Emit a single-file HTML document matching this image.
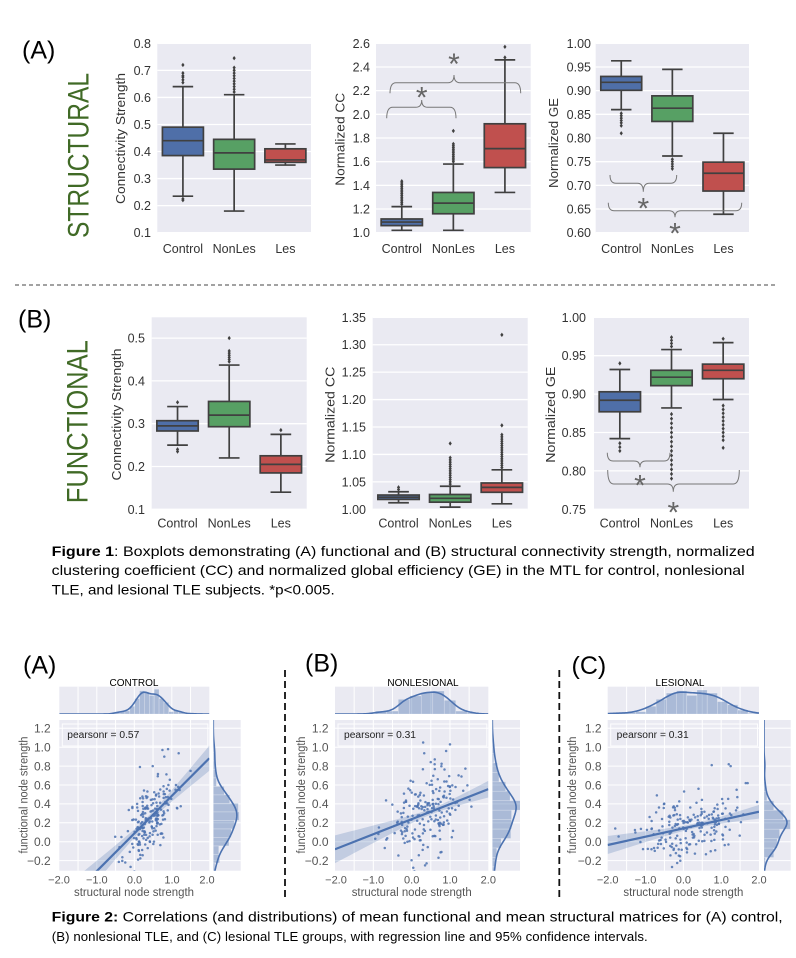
<!DOCTYPE html>
<html><head><meta charset="utf-8">
<style>
html,body{margin:0;padding:0;background:#fff;}
svg{display:block;}
text{font-family:"Liberation Sans",Arial,sans-serif;}
.t{font-size:12.5px;fill:#333;}
.tr{text-anchor:end;}
.tm{text-anchor:middle;}
.yl{font-size:13px;fill:#333;text-anchor:middle;}
.st{font-size:11px;fill:#555;text-anchor:middle;}
.sy{font-size:12px;fill:#555;text-anchor:end;}
.sl{font-size:11.5px;fill:#555;text-anchor:middle;}
.pl{font-size:25px;fill:#000;}
.cap{font-size:14px;fill:#000;}
.star{font-size:30px;fill:#666;text-anchor:middle;}
.ttl{font-size:10px;fill:#000;text-anchor:middle;}
.pr{font-size:10px;fill:#222;}
.big{font-size:30px;fill:#406a26;text-anchor:middle;}
</style></head><body>
<svg id="s" width="796" height="958" viewBox="0 0 796 958" xmlns="http://www.w3.org/2000/svg">
<rect width="796" height="958" fill="#fff"/>
<g id="g"></g>

<!-- panel labels -->
<text class="pl" x="22" y="58.5">(A)</text>
<text class="pl" x="18" y="327.5">(B)</text>
<text class="big" transform="translate(88.3,155.5) rotate(-90)" textLength="165" lengthAdjust="spacingAndGlyphs">STRUCTURAL</text>
<text class="big" transform="translate(87.3,421.7) rotate(-90)" textLength="163" lengthAdjust="spacingAndGlyphs">FUNCTIONAL</text>

<!-- separator -->
<line x1="15" y1="285" x2="777" y2="285" stroke="#444" stroke-width="1" stroke-dasharray="4,3"/>

<!-- Row A tick labels -->
<g class="t tr">
<text x="151" y="47.8">0.8</text><text x="151" y="74.9">0.7</text><text x="151" y="101.9">0.6</text><text x="151" y="129">0.5</text><text x="151" y="156">0.4</text><text x="151" y="183.1">0.3</text><text x="151" y="210.1">0.2</text><text x="151" y="237.2">0.1</text>
<text x="370" y="47.8">2.6</text><text x="370" y="71.5">2.4</text><text x="370" y="95.2">2.2</text><text x="370" y="118.8">2.0</text><text x="370" y="142.5">1.8</text><text x="370" y="166.2">1.6</text><text x="370" y="189.9">1.4</text><text x="370" y="213.5">1.2</text><text x="370" y="237.2">1.0</text>
<text x="591" y="47.8">1.00</text><text x="591" y="71.5">0.95</text><text x="591" y="95.2">0.90</text><text x="591" y="118.8">0.85</text><text x="591" y="142.5">0.80</text><text x="591" y="166.2">0.75</text><text x="591" y="189.9">0.70</text><text x="591" y="213.5">0.65</text><text x="591" y="237.2">0.60</text>
<text x="145" y="342.6">0.5</text><text x="145" y="385.4">0.4</text><text x="145" y="428.2">0.3</text><text x="145" y="471">0.2</text><text x="145" y="513.8">0.1</text>
<text x="366" y="321.8">1.35</text><text x="366" y="349.2">1.30</text><text x="366" y="376.7">1.25</text><text x="366" y="404.1">1.20</text><text x="366" y="431.5">1.15</text><text x="366" y="458.9">1.10</text><text x="366" y="486.4">1.05</text><text x="366" y="513.8">1.00</text>
<text x="586" y="321.8">1.00</text><text x="586" y="360.2">0.95</text><text x="586" y="398.6">0.90</text><text x="586" y="437">0.85</text><text x="586" y="475.4">0.80</text><text x="586" y="513.8">0.75</text>
</g>
<g class="t tm">
<text x="182.9" y="253">Control</text><text x="234.2" y="253">NonLes</text><text x="285.4" y="253">Les</text>
<text x="401.8" y="253">Control</text><text x="453.4" y="253">NonLes</text><text x="504.9" y="253">Les</text>
<text x="621.3" y="253">Control</text><text x="672.4" y="253">NonLes</text><text x="723.5" y="253">Les</text>
<text x="177.5" y="527.5">Control</text><text x="229.2" y="527.5">NonLes</text><text x="280.8" y="527.5">Les</text>
<text x="398.5" y="527.5">Control</text><text x="450.2" y="527.5">NonLes</text><text x="501.8" y="527.5">Les</text>
<text x="619.8" y="527.5">Control</text><text x="671.5" y="527.5">NonLes</text><text x="723.2" y="527.5">Les</text>
</g>
<text class="yl" transform="translate(125,138.5) rotate(-90)" textLength="131" lengthAdjust="spacingAndGlyphs">Connectivity Strength</text>
<text class="yl" transform="translate(344.5,139.3) rotate(-90)" textLength="93" lengthAdjust="spacingAndGlyphs">Normalized CC</text>
<text class="yl" transform="translate(557.8,143) rotate(-90)" textLength="90" lengthAdjust="spacingAndGlyphs">Normalized GE</text>
<text class="yl" transform="translate(121,414.5) rotate(-90)" textLength="132" lengthAdjust="spacingAndGlyphs">Connectivity Strength</text>
<text class="yl" transform="translate(334.5,414.7) rotate(-90)" textLength="96" lengthAdjust="spacingAndGlyphs">Normalized CC</text>
<text class="yl" transform="translate(555,414.7) rotate(-90)" textLength="96" lengthAdjust="spacingAndGlyphs">Normalized GE</text>

<!-- braces -->
<g fill="none" stroke="#777" stroke-width="1">
<path d="M386.7,118.3 Q386.7,107.3 392.7,107.3 L415.7,107.3 Q421.7,107.3 421.7,100 Q421.7,107.3 427.7,107.3 L450,107.3 Q456,107.3 456,118.3"/>
<path d="M390,93.3 Q390,82.7 396,82.7 L448,82.7 Q454,82.7 454,75 Q454,82.7 460,82.7 L514.7,82.7 Q520.7,82.7 520.7,93.3"/>
<path d="M610,175 Q610,183.3 616,183.3 L637.3,183.3 Q643.3,183.3 643.3,191.7 Q643.3,183.3 649.3,183.3 L670.7,183.3 Q676.7,183.3 676.7,175"/>
<path d="M608.3,202.7 Q608.3,210.7 614.3,210.7 L669,210.7 Q675,210.7 675,217.3 Q675,210.7 681,210.7 L735.7,210.7 Q741.7,210.7 741.7,202.7"/>
<path d="M607.3,452.7 Q607.3,461 613.3,461 L634,461 Q640,461 640,467.3 Q640,461 646,461 L664,461 Q670,461 670,452.7"/>
<path d="M607.7,470 Q607.7,484 613.7,484 L667.3,484 Q673.3,484 673.3,491.7 Q673.3,484 679.3,484 L733.3,484 Q739.3,484 739.3,470"/>
</g>
<text class="star" x="421.7" y="107.3">*</text>
<text class="star" x="454" y="74">*</text>
<text class="star" x="643.3" y="218.3">*</text>
<text class="star" x="675" y="243.3">*</text>
<text class="star" x="640" y="495.6">*</text>
<text class="star" x="673.3" y="522.3">*</text>

<!-- Figure 1 caption -->
<text class="cap" x="51.7" y="556" textLength="703" lengthAdjust="spacingAndGlyphs"><tspan font-weight="bold">Figure 1</tspan>: Boxplots demonstrating (A) functional and (B) structural connectivity strength, normalized</text>
<text class="cap" x="51.7" y="575" textLength="693" lengthAdjust="spacingAndGlyphs">clustering coefficient (CC) and normalized global efficiency (GE) in the MTL for control, nonlesional</text>
<text class="cap" x="51.7" y="594.3" textLength="283" lengthAdjust="spacingAndGlyphs">TLE, and lesional TLE subjects. *p&lt;0.005.</text>

<!-- Figure 2 -->
<text class="pl" x="23" y="673.5">(A)</text>
<text class="pl" x="305" y="671.7">(B)</text>
<text class="pl" x="571.5" y="674">(C)</text>
<line x1="285" y1="670" x2="285" y2="900" stroke="#111" stroke-width="1.8" stroke-dasharray="7,4"/>
<line x1="559.3" y1="670" x2="559.3" y2="900" stroke="#111" stroke-width="1.8" stroke-dasharray="7,4"/>
<text class="ttl" x="134" y="686">CONTROL</text>
<text class="ttl" x="423" y="686">NONLESIONAL</text>
<text class="ttl" x="680" y="686">LESIONAL</text>
<text class="pr" x="67.3" y="738" textLength="72" lengthAdjust="spacingAndGlyphs">pearsonr = 0.57</text>
<text class="pr" x="344" y="738" textLength="72" lengthAdjust="spacingAndGlyphs">pearsonr = 0.31</text>
<text class="pr" x="616.7" y="738" textLength="72" lengthAdjust="spacingAndGlyphs">pearsonr = 0.31</text>
<g class="sy">
<text x="50.7" y="732.6">1.2</text><text x="50.7" y="751.5">1.0</text><text x="50.7" y="770.4">0.8</text><text x="50.7" y="789.3">0.6</text><text x="50.7" y="808.2">0.4</text><text x="50.7" y="827.1">0.2</text><text x="50.7" y="846">0.0</text><text x="50.7" y="864.9">−0.2</text>
<text x="328.5" y="732.6">1.2</text><text x="328.5" y="751.5">1.0</text><text x="328.5" y="770.4">0.8</text><text x="328.5" y="789.3">0.6</text><text x="328.5" y="808.2">0.4</text><text x="328.5" y="827.1">0.2</text><text x="328.5" y="846">0.0</text><text x="328.5" y="864.9">−0.2</text>
<text x="601.5" y="732.6">1.2</text><text x="601.5" y="751.5">1.0</text><text x="601.5" y="770.4">0.8</text><text x="601.5" y="789.3">0.6</text><text x="601.5" y="808.2">0.4</text><text x="601.5" y="827.1">0.2</text><text x="601.5" y="846">0.0</text><text x="601.5" y="864.9">−0.2</text>
</g>
<g class="st">
<text x="59" y="883.5">−2.0</text><text x="96.8" y="883.5">−1.0</text><text x="134.5" y="883.5">0.0</text><text x="172" y="883.5">1.0</text><text x="207" y="883.5">2.0</text>
<text x="336" y="883.5">−2.0</text><text x="373.3" y="883.5">−1.0</text><text x="411.7" y="883.5">0.0</text><text x="450" y="883.5">1.0</text><text x="488.3" y="883.5">2.0</text>
<text x="607.7" y="883.5">−2.0</text><text x="645.5" y="883.5">−1.0</text><text x="683.4" y="883.5">0.0</text><text x="721.2" y="883.5">1.0</text><text x="759" y="883.5">2.0</text>
</g>
<text class="sl" x="134" y="896" textLength="120" lengthAdjust="spacingAndGlyphs">structural node strength</text>
<text class="sl" x="411.7" y="896" textLength="120" lengthAdjust="spacingAndGlyphs">structural node strength</text>
<text class="sl" x="683.4" y="896" textLength="120" lengthAdjust="spacingAndGlyphs">structural node strength</text>
<text class="sl" transform="translate(27.5,795) rotate(-90)" textLength="117" lengthAdjust="spacingAndGlyphs">functional node strength</text>
<text class="sl" transform="translate(305,795) rotate(-90)" textLength="117" lengthAdjust="spacingAndGlyphs">functional node strength</text>
<text class="sl" transform="translate(576,795) rotate(-90)" textLength="117" lengthAdjust="spacingAndGlyphs">functional node strength</text>

<text class="cap" x="51.7" y="921.5" textLength="731" lengthAdjust="spacingAndGlyphs"><tspan font-weight="bold">Figure 2:</tspan> Correlations (and distributions) of mean functional and mean structural matrices for (A) control,</text>
<text class="cap" x="51.7" y="941" style="font-size:13.2px" textLength="596" lengthAdjust="spacing">(B) nonlesional TLE, and (C) lesional TLE groups, with regression line and 95% confidence intervals.</text>
</svg>
<script>
(function(){
const NS="http://www.w3.org/2000/svg";
const G=document.getElementById('g');
function el(t,a,p){const e=document.createElementNS(NS,t);for(const k in a)e.setAttribute(k,a[k]);(p||G).appendChild(e);return e;}
const BL='#4f6fa8',GR='#57a064',RD='#c0504e',ED='#404040';
function seq(a,b,s){const r=[];for(let v=a;v<=b+1e-9;v+=s)r.push(+v.toFixed(4));return r;}
function st(a,b,s){return seq(a,b,s);}
const P=[
{x0:157.3,x1:311,yt:43.3,yb:232.7,lo:0.1,hi:0.8,g:seq(0.1,0.8,0.1),b:[
 [.385,.44,.49,.235,.64,[.655,.665,.675,.68,.69,.72,.225,.22],BL],
 [.335,.395,.445,.18,.61,[.62,.63,.64,.65,.66,.67,.68,.69,.70,.71,.745],GR],
 [.36,.369,.41,.35,.428,[],RD]]},
{x0:376,x1:530.7,yt:43.3,yb:232.7,lo:1.0,hi:2.6,g:seq(1.0,2.6,0.2),b:[
 [1.06,1.09,1.116,1.02,1.22,st(1.24,1.435,0.015),BL],
 [1.16,1.25,1.34,1.02,1.58,st(1.6,1.75,0.015).concat([1.86]),GR],
 [1.55,1.71,1.92,1.34,2.46,[2.48,2.57],RD]]},
{x0:595.7,x1:749,yt:43.3,yb:232.7,lo:0.6,hi:1.0,g:seq(0.6,1.0,0.05),b:[
 [.9007,.9176,.93,.86,.963,[.852,.847,.842,.837,.832,.826,.81],BL],
 [.835,.863,.889,.762,.945,[.755,.75,.745,.74,.735],GR],
 [.688,.7255,.749,.639,.81,[],RD]]},
{x0:151.7,x1:306.7,yt:317.3,yb:509.3,lo:0.1,hi:0.5486,g:seq(0.1,0.5,0.1),b:[
 [.283,.295,.307,.25,.34,[.35,.24,.235],BL],
 [.293,.32,.352,.22,.437,[.445,.45,.455,.46,.465,.47,.5],GR],
 [.185,.205,.225,.14,.275,[.285],RD]]},
{x0:372.7,x1:527.7,yt:317.3,yb:509.3,lo:1.0,hi:1.35,g:seq(1.0,1.35,0.05),b:[
 [1.018,1.022,1.026,1.012,1.032,[1.036,1.04],BL],
 [1.013,1.02,1.027,1.004,1.042,st(1.046,1.094,0.004).concat([1.12]),GR],
 [1.031,1.04,1.048,1.01,1.072,st(1.076,1.136,0.004).concat([1.153,1.318]),RD]]},
{x0:594,x1:749,yt:317.3,yb:509.3,lo:0.75,hi:1.0,g:seq(0.75,1.0,0.05),b:[
 [.877,.892,.903,.842,.932,[.94,.836,.831,.826],BL],
 [.911,.922,.931,.882,.958,[.962,.966,.97,.974].concat(st(.79,.876,.006)),GR],
 [.92,.931,.939,.893,.967,[.972,.885,.88,.875,.87,.865,.86,.855,.85,.845,.84,.83],RD]]}
];
P.forEach(p=>{
 el('rect',{x:p.x0,y:p.yt,width:p.x1-p.x0,height:p.yb-p.yt,fill:'#eaeaf2'});
 const Y=v=>p.yb-(v-p.lo)/(p.hi-p.lo)*(p.yb-p.yt);
 p.g.forEach(v=>{const y=Y(v);el('line',{x1:p.x0,x2:p.x1,y1:y,y2:y,stroke:'#fff','stroke-width':1.3});});
 const w=(p.x1-p.x0)/3,bw=w*0.8;
 p.b.forEach((b,i)=>{
  const cx=p.x0+w*(i+.5);
  const q1=b[0],md=b[1],q3=b[2],lo=b[3],hi=b[4],out=b[5],c=b[6];
  const L=(x1,y1,x2,y2)=>el('line',{x1:x1,y1:y1,x2:x2,y2:y2,stroke:ED,'stroke-width':1.7});
  L(cx,Y(hi),cx,Y(q3));L(cx,Y(q1),cx,Y(lo));
  L(cx-bw/4,Y(hi),cx+bw/4,Y(hi));L(cx-bw/4,Y(lo),cx+bw/4,Y(lo));
  el('rect',{x:cx-bw/2,y:Y(q3),width:bw,height:Y(q1)-Y(q3),fill:c,stroke:ED,'stroke-width':1.7});
  L(cx-bw/2,Y(md),cx+bw/2,Y(md));
  out.forEach(v=>{const y=Y(v);el('path',{d:'M'+cx+','+(y-2.2)+'L'+(cx+1.6)+','+y+'L'+cx+','+(y+2.2)+'L'+(cx-1.6)+','+y+'Z',fill:ED});});
 });
});

function R(seed){let s=seed>>>0;return function(){s=(Math.imul(s,1664525)+1013904223)>>>0;return s/4294967296;};}
function Nrm(r){let u=r();if(u<1e-9)u=1e-9;return Math.sqrt(-2*Math.log(u))*Math.cos(2*Math.PI*r());}
function stats(a){const m=a.reduce((s,v)=>s+v,0)/a.length;const sd=Math.sqrt(a.reduce((s,v)=>s+(v-m)*(v-m),0)/(a.length-1));return [m,sd];}
function kde(a,bw,v){let s=0;for(const d of a){const z=(v-d)/bw;s+=Math.exp(-.5*z*z);}return s/(a.length*bw*2.5066);}
const S=[
 {x0:59.3,x1:209.3,rx0:213.3,rx1:240.7,seed:11,n:195,mx:.42,sx:.33,a:.087,b:.398,ns:.19,ca:.0012,cb:.006,cm:.35,hx:.13,hy:.09,extra:[[.75,.97],[.9,.98],[.8,.9],[1.5,.75],[.15,.79],[1.1,.55]]},
 {x0:335,x1:488.3,rx0:492.3,rx1:520,seed:23,n:200,mx:.35,sx:.48,a:.238,b:.159,ns:.21,ca:.0009,cb:.00322,cm:.54,hx:.3,hy:.1,extra:[[.3,1.05],[1.0,1.03],[.9,.96],[.6,.82],[1.3,.69],[.7,-.17],[.35,-.25]]},
 {x0:607.7,x1:759,rx0:764,rx1:790.7,seed:37,n:200,mx:.15,sx:.6,a:.141,b:.088,ns:.16,ca:.0006,cb:.00161,cm:.3,hx:.27,hy:.1,extra:[[.75,.81],[1.2,.82],[1.25,.8],[1.65,.62],[1.7,.62],[-.7,.49],[1.95,.42],[-1.8,.14],[.4,.56]]}
];
const YT=720,YB=870.7,MT=686.7,MB=714;
const SY=v=>728.3-(v-1.2)*94.5;
const C='#4c72b0';
S.forEach((p,k)=>{
 const SX=v=>p.x0+(v+2)*(p.x1-p.x0)/4;
 const r=R(p.seed);
 const xs=[],ys=[];
 for(let i=0;i<p.n;i++){const x=p.mx+p.sx*Nrm(r);const y=p.a+p.b*x+p.ns*Nrm(r);xs.push(x);ys.push(y);}
 p.extra.forEach(e=>{xs.push(e[0]);ys.push(e[1]);});
 const mk=(id,x,y,w,h)=>{const cp=el('clipPath',{id:id});el('rect',{x:x,y:y,width:w,height:h},cp);};
 mk('cm'+k,p.x0,YT,p.x1-p.x0,YB-YT);
 mk('ct'+k,p.x0,MT,p.x1-p.x0,MB-MT);
 mk('cr'+k,p.rx0,YT,p.rx1-p.rx0,YB-YT);
 el('rect',{x:p.x0,y:YT,width:p.x1-p.x0,height:YB-YT,fill:'#eaeaf2'});
 el('rect',{x:p.x0,y:MT,width:p.x1-p.x0,height:MB-MT,fill:'#eaeaf2'});
 el('rect',{x:p.rx0,y:YT,width:p.rx1-p.rx0,height:YB-YT,fill:'#eaeaf2'});
 for(let v=-1.5;v<=1.51;v+=.5){const x=SX(v);el('line',{x1:x,x2:x,y1:YT,y2:YB,stroke:'#fff','stroke-width':1});el('line',{x1:x,x2:x,y1:MT,y2:MB,stroke:'#fff','stroke-width':1});}
 for(let v=-.2;v<=1.21;v+=.2){const y=SY(v);el('line',{x1:p.x0,x2:p.x1,y1:y,y2:y,stroke:'#fff','stroke-width':1});el('line',{x1:p.rx0,x2:p.rx1,y1:y,y2:y,stroke:'#fff','stroke-width':1});}
 el('rect',{x:p.x0+3,y:724,width:p.x1-p.x0-4.5,height:22,fill:'none',stroke:'#fff','stroke-width':1,'stroke-opacity':.9});
 const g2=el('g',{'clip-path':'url(#cm'+k+')'});
 const up=[],dn=[];
 for(let i=0;i<=40;i++){const x=-2+i*0.1;const m=p.a+p.b*x;const h=Math.sqrt(p.ca+p.cb*(x-p.cm)*(x-p.cm));up.push(SX(x).toFixed(2)+','+SY(m+h).toFixed(2));dn.unshift(SX(x).toFixed(2)+','+SY(m-h).toFixed(2));}
 el('polygon',{points:up.concat(dn).join(' '),fill:C,'fill-opacity':.25},g2);
 xs.forEach((x,i)=>el('circle',{cx:SX(x).toFixed(2),cy:SY(ys[i]).toFixed(2),r:1.25,fill:C,'fill-opacity':.85},g2));
 el('line',{x1:SX(-2),y1:SY(p.a-2*p.b),x2:SX(2),y2:SY(p.a+2*p.b),stroke:C,'stroke-width':2.2},g2);
 const sx=stats(xs);const bwx=1.06*sx[1]*Math.pow(xs.length,-.2);
 const kx=[];for(let i=0;i<=100;i++){const v=-2+i*.04;kx.push([v,kde(xs,bwx,v)]);}
 const kmx=Math.max.apply(null,kx.map(d=>d[1]));const fx=.8*(MB-MT)/kmx;
 const tg=el('g',{'clip-path':'url(#ct'+k+')'});
 let mn=Math.min.apply(null,xs),mxv=Math.max.apply(null,xs);
 let nb=Math.ceil((mxv-mn)/p.hx);let cnt=new Array(nb).fill(0);
 xs.forEach(v=>{let j=Math.floor((v-mn)/p.hx);if(j>=nb)j=nb-1;cnt[j]++;});
 cnt.forEach((c,j)=>{if(!c)return;const h=c/(xs.length*p.hx)*fx;const xa=SX(mn+j*p.hx),xb=SX(mn+(j+1)*p.hx);el('rect',{x:xa,y:MB-h,width:xb-xa,height:h,fill:C,'fill-opacity':.4,stroke:'#fff','stroke-opacity':.35,'stroke-width':.6},tg);});
 el('polyline',{points:kx.map(d=>SX(d[0]).toFixed(2)+','+(MB-d[1]*fx).toFixed(2)).join(' '),fill:'none',stroke:C,'stroke-width':1.6},tg);
 const sy=stats(ys);const bwy=1.06*sy[1]*Math.pow(ys.length,-.2);
 const ky=[];for(let i=0;i<=100;i++){const v=-0.32+i*.0162;ky.push([v,kde(ys,bwy,v)]);}
 const kmy=Math.max.apply(null,ky.map(d=>d[1]));const fy=.86*(p.rx1-p.rx0)/kmy;
 const rg=el('g',{'clip-path':'url(#cr'+k+')'});
 mn=Math.min.apply(null,ys);mxv=Math.max.apply(null,ys);
 nb=Math.ceil((mxv-mn)/p.hy);cnt=new Array(nb).fill(0);
 ys.forEach(v=>{let j=Math.floor((v-mn)/p.hy);if(j>=nb)j=nb-1;cnt[j]++;});
 cnt.forEach((c,j)=>{if(!c)return;const h=c/(ys.length*p.hy)*fy;const ya=SY(mn+(j+1)*p.hy),yb=SY(mn+j*p.hy);el('rect',{x:p.rx0,y:ya,width:h,height:yb-ya,fill:C,'fill-opacity':.4,stroke:'#fff','stroke-opacity':.35,'stroke-width':.6},rg);});
 el('polyline',{points:ky.map(d=>(p.rx0+d[1]*fy).toFixed(2)+','+SY(d[0]).toFixed(2)).join(' '),fill:'none',stroke:C,'stroke-width':1.6},rg);
});
})();
</script>
</body></html>
